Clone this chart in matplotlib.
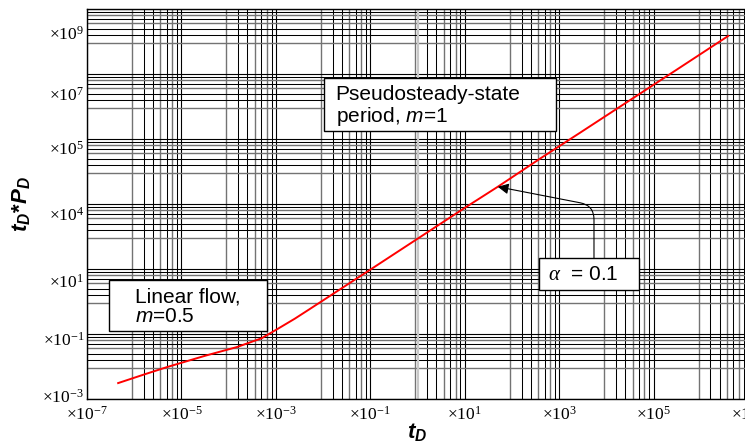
import numpy as np
import matplotlib
matplotlib.use('Agg')
import matplotlib.pyplot as plt
from matplotlib.patches import Rectangle

plt.rcParams['font.family'] = ['Liberation Sans', 'DejaVu Sans']
plt.rcParams['mathtext.fontset'] = 'custom'
plt.rcParams['mathtext.rm'] = 'Liberation Serif'
plt.rcParams['mathtext.it'] = 'Liberation Serif:italic'
plt.rcParams['mathtext.sf'] = 'Liberation Sans:italic'
plt.rcParams['mathtext.bf'] = 'Liberation Sans:bold:italic'

# red curve (log10 values)
log_td = [-6.34, -5.8, -5.31, -4.5, -3.82, -3.3, -2.97, -2.6, -2.28,
          -1.0, 0.0, 1.0, 1.7, 2.6, 3.44, 4.4, 5.35, 6.58]
log_tdpd = [-2.51, -2.25, -2.02, -1.67, -1.40, -1.13, -0.85, -0.53, -0.23,
            0.98, 1.93, 2.88, 3.53, 4.40, 5.19, 6.10, 7.00, 8.17]
arrow_idx = 12

x_tick_exp = [-7, -5, -3, -1, 1, 3, 5, 7]
x_tick_labels = [r'$\mathrm{\times 10^{%d}}$' % e for e in x_tick_exp]
y_tick_pos = [-2.88, -1.12, 0.66, 2.72, 4.75, 6.42, 8.29]
y_tick_text = ['-3', '-1', '1', '4', '5', '7', '9']
y_tick_labels = [r'$\mathrm{\times 10^{%s}}$' % s for s in y_tick_text]

td = 10.0 ** np.array(log_td)
tdpd = 10.0 ** np.array(log_tdpd)

fig = plt.figure(figsize=(7.45, 4.43), dpi=100)
ax = fig.add_axes([87 / 745, 44 / 443, 661 / 745, 390 / 443])
ax.set_xscale('log')
ax.set_yscale('log')
ax.set_xlim(1e-7, 1e7)
ax.set_ylim(1e-3, 1e9)

# odd grid: a decade pattern repeated every two decades
sub_colors = {3: '0.45', 4: 'k', 5: 'k', 6: '0.45', 7: 'k', 8: '0.45', 9: 'k'}
for e in range(-7, 8, 2):
    ax.axvline(10.0 ** e, color='k', lw=0.8, zorder=1)
    if e < 7:
        for k, c in sub_colors.items():
            ax.axvline(10.0 ** e * k ** 2, color=c, lw=0.75 if c == 'k' else 1.0, zorder=1)
for e in range(-3, 10, 2):
    ax.axhline(10.0 ** e, color='k', lw=0.8, zorder=1)
    if e < 9:
        for k, c in sub_colors.items():
            ax.axhline(10.0 ** e * k ** 2, color=c, lw=0.75 if c == 'k' else 1.0, zorder=1)
ax.axvline(1.0, color='#c8c8c8', lw=1.6, zorder=1.5)

ax.plot(td, tdpd, color='red', lw=1.4, zorder=3)

ax.set_xticks(10.0 ** np.array(x_tick_exp))
ax.set_xticklabels(x_tick_labels, fontsize=12.5)
ax.set_yticks(10.0 ** np.array(y_tick_pos))
ax.set_yticklabels(y_tick_labels, fontsize=12.5)
ax.minorticks_off()
ax.tick_params(axis='x', length=0, pad=4)
ax.tick_params(axis='y', length=0, pad=2)
for s in ax.spines.values():
    s.set_color('k')
    s.set_linewidth(1.0)
    s.set_zorder(4)

ax.set_xlabel(r'$\mathbf{t_D}$', fontsize=16, labelpad=-1)
ax.set_ylabel(r'$\mathbf{t_D}$*$\mathbf{P_D}$', fontsize=16, fontweight='bold', labelpad=7)

# text boxes
ax.add_patch(Rectangle((0.0333, 0.174), 0.239, 0.131, transform=ax.transAxes,
                       facecolor='white', edgecolor='k', lw=1.0, zorder=5))
ax.text(0.0726, 0.285, 'Linear flow,\n' + r'$\mathsf{m}$=0.5', transform=ax.transAxes,
        fontsize=15, va='top', ha='left', linespacing=1.0, zorder=6)

ax.add_patch(Rectangle((0.3585, 0.687), 0.351, 0.136, transform=ax.transAxes,
                       facecolor='white', edgecolor='k', lw=1.0, zorder=5))
ax.text(0.376, 0.805, 'Pseudosteady-state\nperiod, ' + r'$\mathsf{m}$=1', transform=ax.transAxes,
        fontsize=15, va='top', ha='left', linespacing=1.05, zorder=6)

ax.add_patch(Rectangle((0.684, 0.2795), 0.151, 0.082, transform=ax.transAxes,
                       facecolor='white', edgecolor='k', lw=1.0, zorder=5))
ax.text(0.697, 0.318, r'$\alpha$  = 0.1', transform=ax.transAxes,
        fontsize=15, va='center', ha='left', zorder=6)

ax.annotate('', xy=(td[arrow_idx], tdpd[arrow_idx]), xycoords='data',
            xytext=(0.767, 0.3615), textcoords='axes fraction',
            arrowprops=dict(arrowstyle='-|>', color='k', lw=0.8, mutation_scale=16,
                            shrinkA=0, shrinkB=0,
                            connectionstyle='angle,angleA=90,angleB=-11,rad=14'),
            zorder=6)

fig.savefig('out.png', dpi=100)
